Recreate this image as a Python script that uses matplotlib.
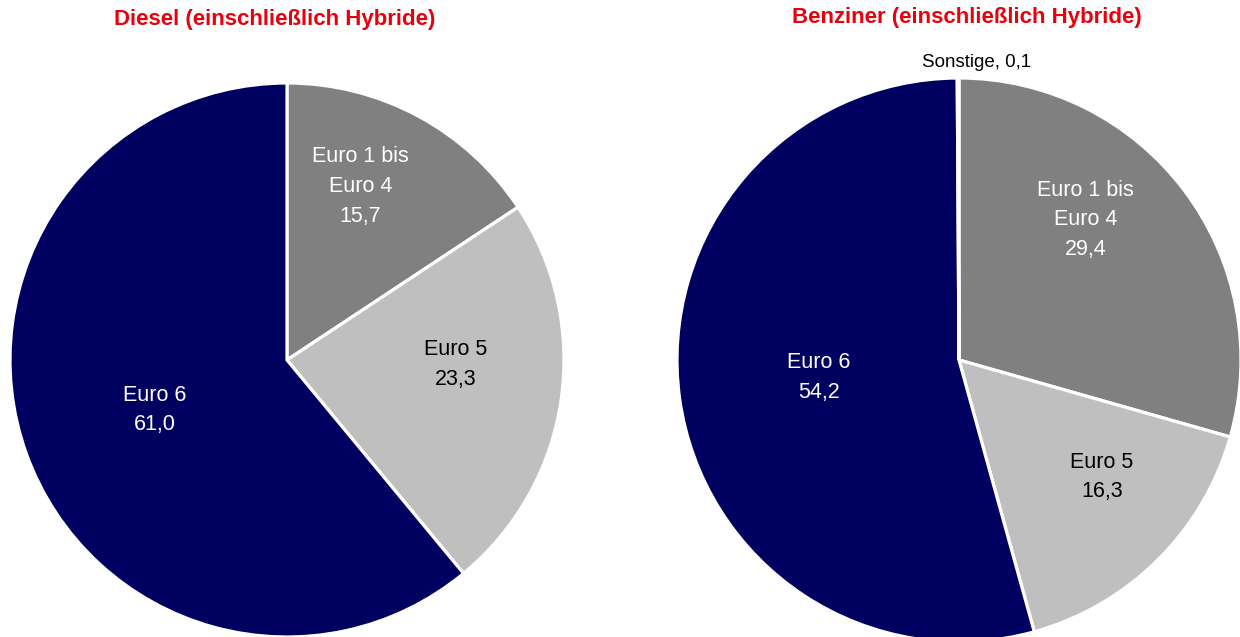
# -*- coding: utf-8 -*-
import numpy as np
import matplotlib
matplotlib.use("Agg")
import matplotlib.pyplot as plt

plt.rcParams['font.family'] = ['Liberation Sans', 'DejaVu Sans']

# Daten (Anteile in %)
diesel_labels = ['Euro 1 bis\nEuro 4', 'Euro 5', 'Euro 6']
diesel_values = [15.7, 23.3, 61.0]
benzin_labels = ['Euro 1 bis\nEuro 4', 'Euro 5', 'Euro 6', 'Sonstige']
benzin_values = [29.4, 16.3, 54.2, 0.1]

titles = ['Diesel (einschließlich Hybride)', 'Benziner (einschließlich Hybride)']

farben = ['#808080', '#bfbfbf', '#000060', '#e0e0e0']
textfarben = ['white', 'black', 'white', 'black']
rot = '#e8000d'

W, H = 1240, 637
fig = plt.figure(figsize=(W / 100, H / 100), dpi=100)


def fmt(v):
    return ('%.1f' % v).replace('.', ',')


def draw_pie(rect, labels, values, shift, dist):
    ax = fig.add_axes(rect)
    wedges, _ = ax.pie(values, colors=farben[:len(values)], startangle=90,
                       counterclock=False,
                       wedgeprops=dict(edgecolor='white', linewidth=2.3))
    ax.set_xlim(-1, 1)
    ax.set_ylim(-1, 1)
    ax.axis('off')
    for i, (w, lab, v) in enumerate(zip(wedges, labels, values)):
        ang = np.deg2rad((w.theta1 + w.theta2) / 2 + shift[i])
        x, y = dist[i] * np.cos(ang), dist[i] * np.sin(ang)
        if lab == 'Sonstige':
            ax.annotate('%s, %s' % (lab, fmt(v)), (x, y), xytext=(13, 0),
                        textcoords='offset points', ha='center', va='center',
                        fontsize=13.5, color='black', annotation_clip=False)
        else:
            ax.text(x, y, '%s\n%s' % (lab, fmt(v)), ha='center', va='center',
                    fontsize=15.5, color=textfarben[i], linespacing=1.55)
    return ax


# linkes Diagramm: Mittelpunkt (287, 360) px, Radius 277 px
r1 = 277
draw_pie([(287 - r1) / W, (H - 360 - r1) / H, 2 * r1 / W, 2 * r1 / H],
         diesel_labels, diesel_values, [5.3, 6.8, 0.9], [0.68, 0.61, 0.51])
# rechtes Diagramm: Mittelpunkt (959, 360) px, Radius 282 px
r2 = 282
draw_pie([(959 - r2) / W, (H - 360 - r2) / H, 2 * r2 / W, 2 * r2 / H],
         benzin_labels, benzin_values, [10.8, 5.9, -0.7, 0], [0.67, 0.655, 0.50, 1.055])

fig.text(275 / W, 1 - 20 / H, titles[0], ha='center', va='center',
         fontsize=16, fontweight='bold', color=rot)
fig.text(967 / W, 1 - 18 / H, titles[1], ha='center', va='center',
         fontsize=16, fontweight='bold', color=rot)

plt.savefig('out.png', dpi=100)
